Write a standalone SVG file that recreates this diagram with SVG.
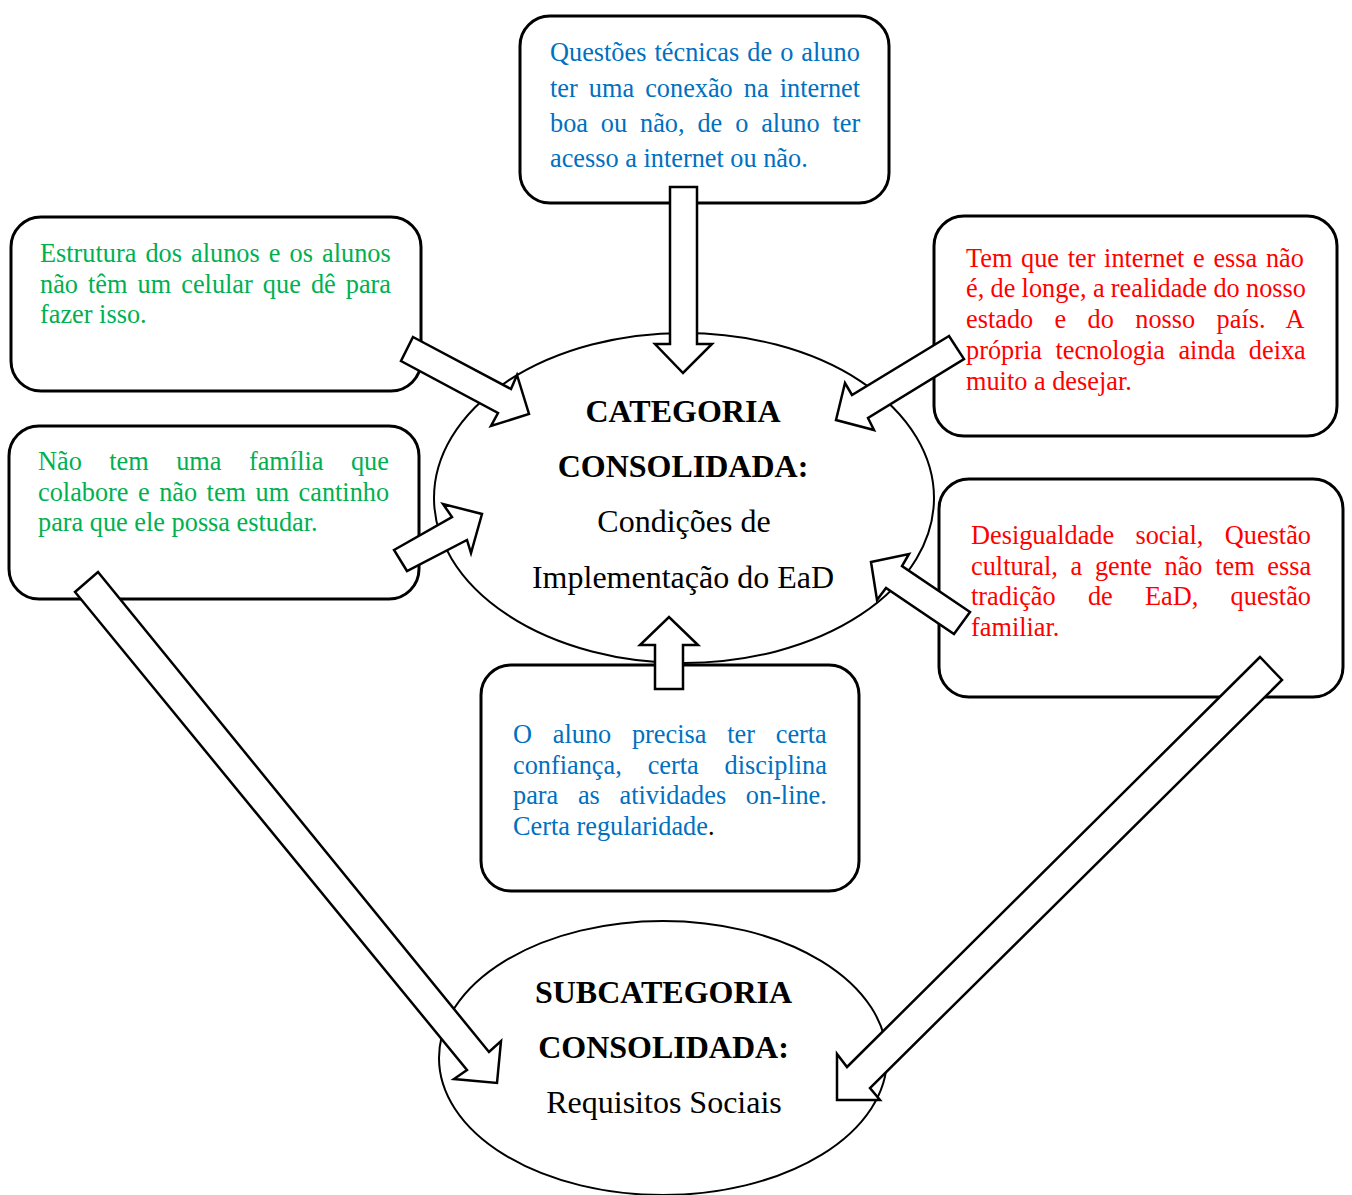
<svg xmlns="http://www.w3.org/2000/svg" width="1352" height="1195" viewBox="0 0 1352 1195">
<style>
.box{fill:#fff;stroke:#000;stroke-width:3}
.ell{fill:#fff;stroke:#000;stroke-width:2}
.arr{fill:#fff;stroke:#000;stroke-width:2.5;stroke-linejoin:miter}
.t{font-family:"Liberation Serif","Times New Roman",serif;font-size:26.3px}
.b{fill:#0070C0}.g{fill:#00B050}.r{fill:#FF0000}
.c{font-family:"Liberation Serif","Times New Roman",serif;font-size:32px;fill:#000;text-anchor:middle}
.bold{font-weight:bold}
</style>
<rect width="1352" height="1195" fill="#fff"/>
<g id="box-top">
<rect class="box" x="520" y="16" width="369" height="187" rx="30"/>
<text class="t b" x="550" y="61" word-spacing="1.5">Questões técnicas de o aluno</text>
<text class="t b" x="550" y="97" word-spacing="4.5">ter uma conexão na internet</text>
<text class="t b" x="550" y="132" word-spacing="6.3">boa ou não, de o aluno ter</text>
<text class="t b" x="550" y="167">acesso a internet ou não.</text>
</g>
<g id="box-left-top">
<rect class="box" x="11" y="217" width="410" height="174" rx="30"/>
<text class="t g" x="40" y="262" word-spacing="2.5">Estrutura dos alunos e os alunos</text>
<text class="t g" x="40" y="293" word-spacing="3.5">não têm um celular que dê para</text>
<text class="t g" x="40" y="323">fazer isso.</text>
</g>
<g id="box-right-top">
<rect class="box" x="934" y="216" width="403" height="220" rx="30"/>
<text class="t r" x="966" y="267" word-spacing="2.1">Tem que ter internet e essa não</text>
<text class="t r" x="966" y="297" word-spacing="-0.3">é, de longe, a realidade do nosso</text>
<text class="t r" x="966" y="328" word-spacing="14.8">estado e do nosso país. A</text>
<text class="t r" x="966" y="359" word-spacing="6.9">própria tecnologia ainda deixa</text>
<text class="t r" x="966" y="390">muito a desejar.</text>
</g>
<g id="box-left-mid">
<rect class="box" x="9" y="426" width="410" height="173" rx="30"/>
<text class="t g" x="38" y="470" word-spacing="20.9">Não tem uma família que</text>
<text class="t g" x="38" y="501" word-spacing="2.9">colabore e não tem um cantinho</text>
<text class="t g" x="38" y="531">para que ele possa estudar.</text>
</g>
<g id="box-right-mid">
<rect class="box" x="939" y="479" width="404" height="218" rx="30"/>
<text class="t r" x="971" y="544" word-spacing="14.8">Desigualdade social, Questão</text>
<text class="t r" x="971" y="575" word-spacing="6.1">cultural, a gente não tem essa</text>
<text class="t r" x="971" y="605" word-spacing="25.7">tradição de EaD, questão</text>
<text class="t r" x="971" y="636">familiar.</text>
</g>
<g id="box-bottom">
<rect class="box" x="481" y="665" width="378" height="226" rx="30"/>
<text class="t b" x="513" y="743" word-spacing="14.2">O aluno precisa ter certa</text>
<text class="t b" x="513" y="774" word-spacing="19.3">confiança, certa disciplina</text>
<text class="t b" x="513" y="804" word-spacing="13.1">para as atividades on-line.</text>
<text class="t b" x="513" y="835">Certa regularidade<tspan fill="#000">.</tspan></text>
</g>
<g id="categoria">
<ellipse class="ell" cx="684" cy="498" rx="250" ry="165"/>
<text class="c bold" x="683" y="422">CATEGORIA</text>
<text class="c bold" x="683" y="477">CONSOLIDADA:</text>
<text class="c" x="684" y="532">Condições de</text>
<text class="c" x="683" y="588">Implementação do EaD</text>
</g>
<g id="subcategoria">
<ellipse class="ell" cx="663" cy="1058" rx="224" ry="137"/>
<text class="c bold" x="663.5" y="1003">SUBCATEGORIA</text>
<text class="c bold" x="663.5" y="1058">CONSOLIDADA:</text>
<text class="c" x="664" y="1113">Requisitos Sociais</text>
</g>
<g id="connectors">
<polygon class="arr" points="670,187 697,187 697,344 712,344 683,373 655,344 670,344"/>
<polygon class="arr" points="655,689 683,689 683,645 698,645 669,617 640,645 655,645"/>
<polygon class="arr" points="413,337 511,389 517,375 529,414 491,426 498,413 401,361"/>
<polygon class="arr" points="949,336 852,395 845,383 836,420 874,430 868,418 964,359"/>
<polygon class="arr" points="394,550 452,517 443,504 482,514 471,553 467,540 407,571"/>
<polygon class="arr" points="970,612 902,566 909,554 871,562 877,600 886,588 954,634"/>
<polygon class="arr" points="98,572 489,1052 501,1041 497,1083 454,1079 467,1070 75,592"/>
<polygon class="arr" points="1260,657 847,1067 837,1054 837,1100 880,1100 870,1088 1282,680"/>
</g>
</svg>
